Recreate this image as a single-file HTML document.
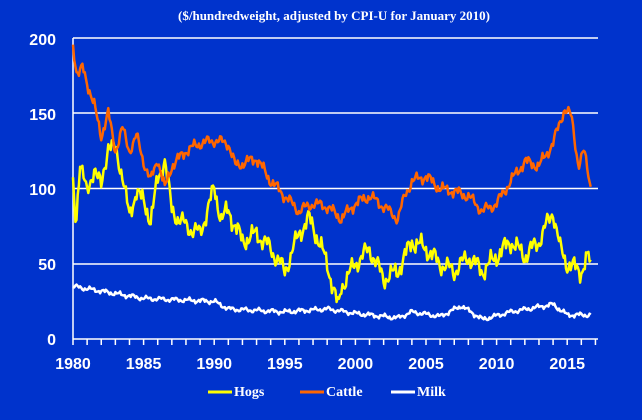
<!DOCTYPE html>
<html><head><meta charset="utf-8"><style>
html,body{margin:0;padding:0;background:#0033cc;}
svg{display:block}
</style></head><body>
<svg id="c" width="642" height="420" xmlns="http://www.w3.org/2000/svg">
<rect width="642" height="420" fill="#0033cc"/>
<text x="334" y="20" fill="#fff" font-family="Liberation Serif,serif" font-weight="bold" font-size="13" text-anchor="middle">($/hundredweight, adjusted by CPI-U for January 2010)</text>
<g stroke="#fff" stroke-width="1.5">
<line x1="73" y1="38" x2="598" y2="38"/>
<line x1="73" y1="113" x2="598" y2="113"/>
<line x1="73" y1="188.5" x2="598" y2="188.5"/>
<line x1="73" y1="264" x2="598" y2="264"/>
<line x1="73" y1="339" x2="598" y2="339"/>
<line x1="73" y1="38" x2="73" y2="339"/>
</g>
<g id="ticks" stroke="#fff" stroke-width="1.5"></g>
<g fill="#fff" font-family="Liberation Sans,sans-serif" font-weight="bold" font-size="16" text-anchor="end">
<text x="56" y="45">200</text><text x="56" y="120">150</text><text x="56" y="195">100</text><text x="56" y="270">50</text><text x="56" y="345">0</text>
</g>
<g id="xl" fill="#fff" font-family="Liberation Sans,sans-serif" font-weight="bold" font-size="16" text-anchor="middle"></g>
<g id="series" fill="none" stroke-width="2.5" stroke-linejoin="round"></g>
<g font-family="Liberation Serif,serif" font-weight="bold" font-size="14" fill="#fff">
<line x1="208" y1="392" x2="232" y2="392" stroke="#ffff00" stroke-width="3"/><text x="234" y="396">Hogs</text>
<line x1="300" y1="392" x2="324" y2="392" stroke="#ff6600" stroke-width="3"/><text x="326" y="396">Cattle</text>
<line x1="391" y1="392" x2="415" y2="392" stroke="#ffffff" stroke-width="3"/><text x="417" y="396">Milk</text>
</g>
</svg>
<script>
var X=function(y){return 73+(y-1980)*14.12;},Y=function(v){return 339-v*1.505;};
var t=document.getElementById('ticks'),xl=document.getElementById('xl'),ns='http://www.w3.org/2000/svg';
for(var y=1980;y<=2017;y++){var l=document.createElementNS(ns,'line');l.setAttribute('x1',X(y));l.setAttribute('x2',X(y));l.setAttribute('y1',339);l.setAttribute('y2',345);t.appendChild(l);
if(y%5==0){var tx=document.createElementNS(ns,'text');tx.setAttribute('x',X(y));tx.setAttribute('y',369);tx.textContent=y;xl.appendChild(tx);}}
var cattle=[[1980,195],[1980.3,175],[1980.7,180],[1981.5,155],[1982,135],[1982.5,150],[1983,125],[1983.5,140],[1984,125],[1984.5,135],[1985,118],[1985.5,105],[1986,120],[1986.5,100],[1987,115],[1988,125],[1989,130],[1990,132],[1991,130],[1991.5,115],[1993,120],[1994,105],[1995,95],[1996,85],[1997,90],[1998,88],[1999,80],[2000,90],[2001,95],[2002,88],[2003,80],[2003.5,95],[2004,105],[2005,108],[2006,100],[2007,98],[2008,95],[2009,85],[2010,90],[2011,105],[2012,118],[2013,115],[2014,130],[2014.8,153],[2015.3,148],[2015.8,115],[2016.2,125],[2016.7,100]];
var hogs=[[1980,100],[1980.2,75],[1980.5,120],[1981,95],[1981.5,115],[1982,100],[1982.5,130],[1983,125],[1983.5,110],[1984,80],[1984.5,100],[1985,90],[1985.5,80],[1986,105],[1986.5,120],[1987,85],[1988,75],[1989,70],[1990,100],[1990.5,80],[1991,85],[1992,65],[1993,70],[1994,60],[1995,45],[1996,70],[1996.7,80],[1997,75],[1998,50],[1998.8,20],[1999,35],[2000,50],[2001,60],[2002,40],[2003,45],[2004,65],[2005,60],[2006,50],[2007,45],[2008,55],[2009,45],[2010,55],[2011,65],[2012,55],[2013,65],[2014,85],[2014.5,60],[2015,50],[2016,45],[2016.5,55],[2016.7,45]];
var milk=[[1980,35],[1985,27],[1990,25],[1991,20],[1995,18],[1998,20],[2000,17],[2003,14],[2004,18],[2006,15],[2007.5,22],[2009,13],[2011,18],[2014,23],[2015,16],[2016.7,16]];
function interp(d,x){for(var i=0;i<d.length-1;i++){if(x<=d[i+1][0]){var f=(x-d[i][0])/(d[i+1][0]-d[i][0]);return d[i][1]+f*(d[i+1][1]-d[i][1]);}}return d[d.length-1][1];}
function draw(d,c,amp,s){var p=[];for(var m=0;m<=440;m++){var x=1980+m/12;var v=interp(d,x)+amp*(Math.sin(m*1.7+s)*0.6+Math.sin(m*0.53+s*2)*0.8+Math.sin(m*3.1+s)*0.3);p.push(X(x).toFixed(1)+','+Y(v).toFixed(1));}
var e=document.createElementNS(ns,'polyline');e.setAttribute('points',p.join(' '));e.setAttribute('stroke',c);document.getElementById('series').appendChild(e);}
draw(milk,'#ffffff',1.2,3);draw(hogs,'#ffff00',5,1);draw(cattle,'#ff6600',3,2);
</script>
</body></html>
